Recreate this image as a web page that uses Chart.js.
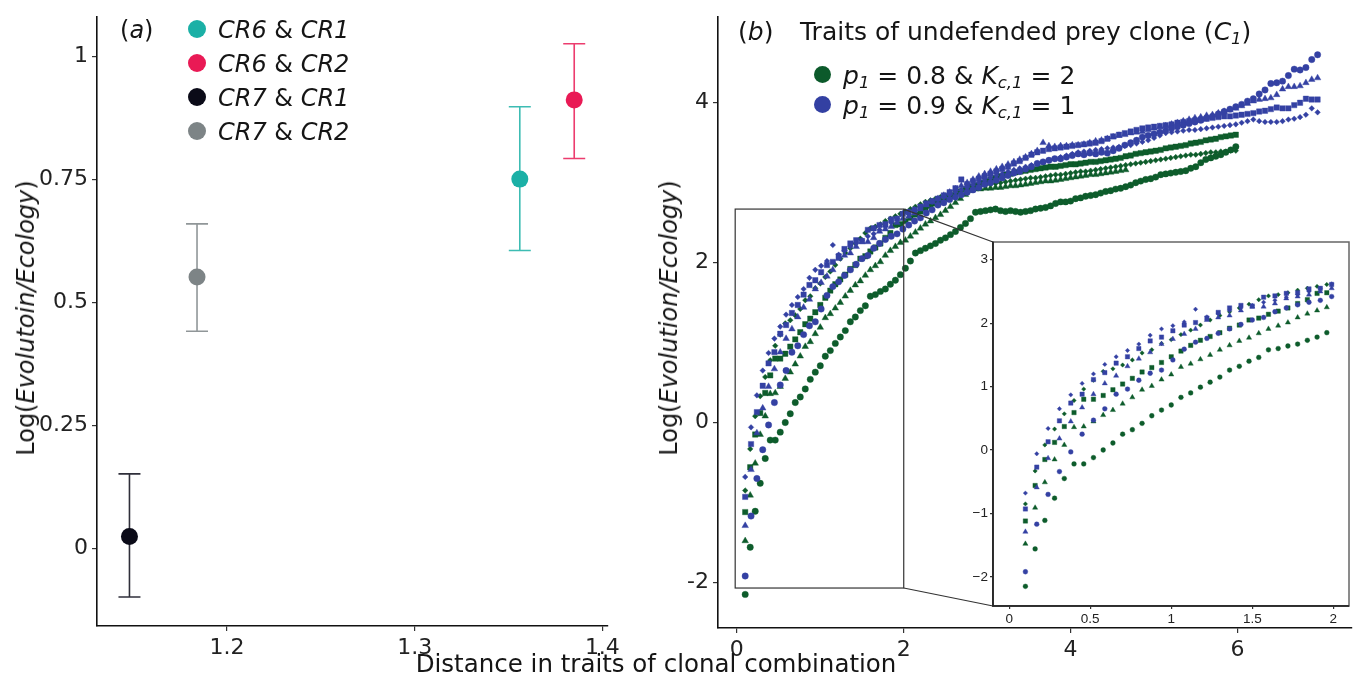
<!DOCTYPE html>
<html><head><meta charset="utf-8">
<script src="https://cdn.jsdelivr.net/npm/chart.js@4"></script>
<style>
html,body{margin:0;padding:0;background:#fff;}
body{width:1356px;height:681px;position:relative;overflow:hidden;font-family:"DejaVu Sans",Verdana,sans-serif;color:#151515;}
canvas{position:absolute;}
.t{position:absolute;white-space:nowrap;font-size:24px;line-height:1;transform:translateY(-50%);}
.b{font-size:25px;}
.rot{position:absolute;white-space:nowrap;font-size:24px;line-height:1;transform:translate(-50%,-50%) rotate(-90deg);}
.dot{position:absolute;border-radius:50%;}
i{font-style:italic;}
sub{font-size:0.66em;vertical-align:-0.28em;line-height:0;font-style:italic;}
</style></head><body>
<canvas id="ca" width="640" height="681" style="left:0;top:0"></canvas>
<canvas id="cb" width="716" height="681" style="left:640px;top:0"></canvas>
<canvas id="cc" width="406" height="410" style="left:950px;top:230px"></canvas>

<div class="t" style="left:120px;top:30px">(<i>a</i>)</div>
<div class="dot" style="left:188px;top:20px;width:18px;height:18px;background:#1bb0a6"></div>
<div class="dot" style="left:188px;top:54px;width:18px;height:18px;background:#e91a55"></div>
<div class="dot" style="left:188px;top:88px;width:18px;height:18px;background:#0b0b18"></div>
<div class="dot" style="left:188px;top:122px;width:18px;height:18px;background:#7d8486"></div>
<div class="t" style="left:218px;top:30px"><i>CR6</i> &amp; <i>CR1</i></div>
<div class="t" style="left:218px;top:64px"><i>CR6</i> &amp; <i>CR2</i></div>
<div class="t" style="left:218px;top:98px"><i>CR7</i> &amp; <i>CR1</i></div>
<div class="t" style="left:218px;top:132px"><i>CR7</i> &amp; <i>CR2</i></div>
<div class="rot" style="left:26px;top:318px">Log(<i>Evolutoin/Ecology</i>)</div>

<div class="t b" style="left:738px;top:31px">(<i>b</i>)</div>
<div class="t b" style="left:800px;top:31px">Traits of undefended prey clone (<i>C<sub>1</sub></i>)</div>
<div class="dot" style="left:814px;top:66px;width:17px;height:17px;background:#0c5a2b"></div>
<div class="dot" style="left:814px;top:96px;width:17px;height:17px;background:#3340a2"></div>
<div class="t b" style="left:843px;top:75px"><i>p<sub>1</sub></i> = 0.8 &amp; <i>K<sub>c,1</sub></i> = 2</div>
<div class="t b" style="left:843px;top:105px"><i>p<sub>1</sub></i> = 0.9 &amp; <i>K<sub>c,1</sub></i> = 1</div>
<div class="rot" style="left:669px;top:318px">Log(<i>Evolution/Ecology</i>)</div>

<div class="t" style="left:656px;top:664px;transform:translate(-50%,-50%);font-size:24.5px">Distance in traits of clonal combination</div>

<script>
// ---------- Panel (a) data ----------
const pairNames  = ["CR6 & CR1", "CR6 & CR2", "CR7 & CR1", "CR7 & CR2"];
const pairX      = [1.356, 1.385, 1.148, 1.184];
const pairY      = [0.751, 0.912, 0.025, 0.552];
const pairLo     = [0.606, 0.793, -0.098, 0.442];
const pairHi     = [0.898, 1.026, 0.152, 0.660];
const pairColors = ["#1bb0a6", "#e91a55", "#0b0b18", "#7d8486"];
const xTicksA = [1.2, 1.3, 1.4];
const xTickLabelsA = ["1.2", "1.3", "1.4"];
const yTicksA = [0, 0.25, 0.5, 0.75, 1];
const yTickLabelsA = ["0", "0.25", "0.5", "0.75", "1"];

// ---------- Panel (b) data ----------
const xGreen = [0.10,0.16,0.22,0.28,0.34,0.40,0.46,0.52,0.58,0.64,
0.70,0.76,0.82,0.88,0.94,1.00,1.06,1.12,1.18,1.24,
1.30,1.36,1.42,1.48,1.54,1.60,1.66,1.72,1.78,1.84,
1.90,1.96,2.02,2.08,2.14,2.20,2.26,2.32,2.38,2.44,
2.50,2.56,2.62,2.68,2.74,2.80,2.86,2.92,2.98,3.04,
3.10,3.16,3.22,3.28,3.34,3.40,3.46,3.52,3.58,3.64,
3.70,3.76,3.82,3.88,3.94,4.00,4.06,4.12,4.18,4.24,
4.30,4.36,4.42,4.48,4.54,4.60,4.66,4.72,4.78,4.84,
4.90,4.96,5.02,5.08,5.14,5.20,5.26,5.32,5.38,5.44,
5.50,5.56,5.62,5.68,5.74,5.80,5.86,5.92,5.98];
const xBlue = [0.10,0.17,0.24,0.31,0.38,0.45,0.52,0.59,0.66,0.73,
0.80,0.87,0.94,1.01,1.08,1.15,1.22,1.29,1.36,1.43,
1.50,1.57,1.64,1.71,1.78,1.85,1.92,1.99,2.06,2.13,
2.20,2.27,2.34,2.41,2.48,2.55,2.62,2.69,2.76,2.83,
2.90,2.97,3.04,3.11,3.18,3.25,3.32,3.39,3.46,3.53,
3.60,3.67,3.74,3.81,3.88,3.95,4.02,4.09,4.16,4.23,
4.30,4.37,4.44,4.51,4.58,4.65,4.72,4.79,4.86,4.93,
5.00,5.07,5.14,5.21,5.28,5.35,5.42,5.49,5.56,5.63,
5.70,5.77,5.84,5.91,5.98,6.05,6.12,6.19,6.26,6.33,
6.40,6.47,6.54,6.61,6.68,6.75,6.82,6.89,6.96];

const greenCircle = [-2.15,-1.56,-1.11,-0.76,-0.45,-0.22,-0.22,-0.12,0.00,0.11,
0.25,0.32,0.42,0.54,0.63,0.71,0.83,0.90,0.99,1.07,
1.15,1.26,1.32,1.40,1.46,1.58,1.60,1.64,1.67,1.73,
1.78,1.85,1.93,2.02,2.12,2.15,2.18,2.21,2.24,2.28,
2.31,2.35,2.39,2.44,2.49,2.55,2.63,2.64,2.65,2.66,
2.67,2.65,2.64,2.65,2.64,2.63,2.64,2.65,2.67,2.68,
2.69,2.71,2.74,2.76,2.76,2.77,2.80,2.81,2.83,2.84,
2.85,2.87,2.89,2.90,2.92,2.93,2.95,2.97,3.00,3.02,
3.04,3.05,3.07,3.10,3.11,3.12,3.13,3.14,3.15,3.18,
3.20,3.25,3.29,3.31,3.33,3.35,3.38,3.41,3.45];
const greenTriangle = [-1.48,-0.91,-0.51,-0.15,0.08,0.36,0.37,0.45,0.55,0.63,
0.73,0.83,0.95,1.01,1.11,1.19,1.31,1.36,1.43,1.50,
1.58,1.65,1.72,1.77,1.84,1.91,1.96,2.01,2.09,2.15,
2.20,2.25,2.28,2.33,2.38,2.43,2.48,2.52,2.56,2.60,
2.65,2.70,2.75,2.80,2.85,2.90,2.92,2.92,2.93,2.93,
2.94,2.94,2.95,2.96,2.96,2.97,2.98,2.99,3.00,3.01,
3.02,3.02,3.03,3.04,3.05,3.06,3.07,3.08,3.09,3.10,
3.10,3.11,3.12,3.13,3.14,3.15,3.16];
const greenSquare = [-1.12,-0.56,-0.15,0.12,0.37,0.59,0.80,0.80,0.86,0.95,
1.04,1.13,1.23,1.30,1.38,1.47,1.56,1.65,1.73,1.79,
1.85,1.92,1.97,2.05,2.08,2.14,2.19,2.24,2.31,2.37,
2.47,2.48,2.52,2.56,2.60,2.64,2.68,2.71,2.74,2.77,
2.80,2.83,2.86,2.89,2.92,2.95,2.97,3.00,3.02,3.04,
3.06,3.08,3.10,3.11,3.13,3.14,3.15,3.16,3.17,3.18,
3.19,3.20,3.20,3.21,3.22,3.23,3.23,3.24,3.25,3.26,
3.26,3.27,3.28,3.29,3.30,3.31,3.33,3.34,3.36,3.37,
3.38,3.39,3.40,3.41,3.43,3.44,3.45,3.46,3.47,3.49,
3.50,3.51,3.53,3.54,3.55,3.57,3.58,3.59,3.60];
const greenDiamond = [-0.85,-0.33,0.08,0.33,0.57,0.78,0.96,1.10,1.24,1.28,
1.34,1.42,1.53,1.58,1.68,1.74,1.82,1.89,1.97,2.05,
2.12,2.18,2.24,2.30,2.37,2.43,2.45,2.48,2.52,2.55,
2.58,2.61,2.64,2.67,2.70,2.73,2.76,2.78,2.80,2.82,
2.84,2.86,2.88,2.90,2.92,2.93,2.95,2.96,2.97,2.98,
2.99,3.00,3.01,3.02,3.03,3.04,3.05,3.06,3.06,3.07,
3.08,3.09,3.10,3.10,3.11,3.12,3.13,3.14,3.14,3.15,
3.16,3.17,3.18,3.19,3.20,3.21,3.22,3.23,3.24,3.25,
3.26,3.27,3.28,3.29,3.30,3.31,3.32,3.33,3.34,3.35,
3.35,3.36,3.37,3.38,3.38,3.39,3.39,3.40,3.40];

const blueCircle = [-1.92,-1.17,-0.70,-0.34,-0.03,0.25,0.47,0.65,0.88,0.96,
1.10,1.21,1.26,1.42,1.59,1.70,1.76,1.84,1.91,1.98,
2.05,2.09,2.18,2.24,2.29,2.33,2.36,2.42,
2.47,2.52,2.56,2.62,2.66,2.72,2.75,2.79,2.82,2.85,
2.88,2.91,2.94,2.98,3.00,3.03,3.06,3.09,3.12,3.14,
3.17,3.20,3.24,3.26,3.28,3.30,3.30,3.32,3.34,3.36,
3.35,3.37,3.36,3.38,3.37,3.40,3.43,3.47,3.50,3.53,
3.57,3.59,3.61,3.63,3.65,3.68,3.70,3.72,3.74,3.76,
3.78,3.81,3.83,3.86,3.89,3.92,3.95,3.98,4.02,4.05,
4.11,4.16,4.24,4.25,4.27,4.34,4.42,4.41,4.44,4.54,4.60];
const blueTriangle = [-1.29,-0.59,-0.13,0.18,0.45,0.67,0.88,1.05,1.17,1.32,
1.44,1.54,1.67,1.75,1.83,1.91,2.05,2.09,2.12,2.20,
2.26,2.26,2.31,2.39,2.42,2.45,2.50,2.55,
2.58,2.62,2.67,2.72,2.76,2.80,2.84,2.88,2.92,2.96,
3.00,3.04,3.08,3.11,3.14,3.17,3.20,3.23,3.26,3.29,
3.32,3.36,3.40,3.50,3.46,3.45,3.46,3.46,3.47,3.47,
3.48,3.50,3.52,3.53,3.55,3.57,3.59,3.60,3.62,3.63,
3.64,3.66,3.68,3.70,3.71,3.73,3.75,3.77,3.79,3.81,
3.82,3.84,3.85,3.87,3.89,3.91,3.93,3.96,3.99,4.02,
4.04,4.05,4.06,4.10,4.17,4.20,4.20,4.21,4.25,4.29,4.31];
const blueSquare = [-0.93,-0.27,0.13,0.46,0.74,0.88,1.11,1.22,1.37,1.47,
1.60,1.72,1.78,1.88,1.97,2.01,2.08,2.17,2.24,2.28,
2.27,2.41,2.43,2.47,2.48,2.54,2.55,2.61,
2.63,2.66,2.70,2.74,2.77,2.80,2.84,2.88,2.93,3.04,
2.98,3.02,3.05,3.08,3.11,3.14,3.17,3.20,3.24,3.27,
3.31,3.35,3.38,3.40,3.42,3.43,3.44,3.45,3.46,3.47,
3.48,3.49,3.50,3.52,3.55,3.58,3.60,3.62,3.64,3.66,
3.68,3.69,3.70,3.71,3.72,3.73,3.75,3.76,3.77,3.78,
3.79,3.80,3.81,3.82,3.83,3.83,3.84,3.85,3.86,3.87,
3.89,3.90,3.92,3.94,3.93,3.93,3.97,4.00,4.05,4.04,4.04];
const blueDiamond = [-0.68,-0.06,0.34,0.65,0.87,1.05,1.20,1.35,1.47,1.57,
1.67,1.81,1.91,1.96,2.02,2.22,2.10,2.15,2.20,2.24,
2.28,2.33,2.36,2.41,2.45,2.50,2.55,2.62,
2.64,2.67,2.70,2.73,2.76,2.79,2.82,2.85,2.88,2.91,
2.94,2.97,3.00,3.03,3.06,3.09,3.11,3.14,3.16,3.18,
3.20,3.22,3.24,3.26,3.28,3.30,3.32,3.34,3.36,3.38,
3.39,3.40,3.41,3.42,3.43,3.44,3.45,3.46,3.47,3.49,
3.51,3.53,3.56,3.59,3.62,3.63,3.64,3.65,3.66,3.66,
3.67,3.68,3.69,3.70,3.71,3.72,3.73,3.75,3.77,3.79,
3.77,3.76,3.76,3.76,3.77,3.79,3.80,3.82,3.85,3.93,3.88];

const xTicksB = [0, 2, 4, 6];
const xTickLabelsB = ["0", "2", "4", "6"];
const yTicksB = [-2, 0, 2, 4];
const yTickLabelsB = ["-2", "0", "2", "4"];
const xTicksC = [0, 0.5, 1, 1.5, 2];
const xTickLabelsC = ["0", "0.5", "1", "1.5", "2"];
const yTicksC = [-2, -1, 0, 1, 2, 3];
const yTickLabelsC = ["\u22122", "\u22121", "0", "1", "2", "3"];
const zoomBoxX = [-0.02, 2.0];
const zoomBoxY = [-2.07, 2.67];

// ---------- styling ----------
const GREEN = "#0d5c2b", BLUE = "#3441a3";
const FONT = '"DejaVu Sans", Verdana, sans-serif';
Chart.defaults.font.family = FONT;

function tickAxis(min, max, ticks, labels, size, fitKey, fitVal, opts) {
  opts = opts || {};
  return {
    type: 'linear', min: min, max: max,
    afterBuildTicks: s => { s.ticks = ticks.map(v => ({ value: v })); },
    afterFit: s => { s[fitKey] = fitVal; },
    ticks: { callback: (v, i) => labels[i], font: { size: size, family: opts.family || FONT },
             color: '#222', padding: opts.pad == null ? 4 : opts.pad, maxRotation: 0, autoSkip: false },
    grid: { display: true, drawOnChartArea: false, drawTicks: true, tickLength: opts.tl || 5,
            color: '#333', lineWidth: 1.2 },
    border: { display: true, color: '#111', width: 1.6 }
  };
}

// ---------- Panel (a) ----------
const errorBars = {
  id: 'errorBars',
  beforeDatasetsDraw(chart) {
    const { ctx, scales: { x, y } } = chart;
    ctx.save();
    ctx.lineWidth = 1.6;
    ctx.globalAlpha = 0.85;
    pairX.forEach((v, k) => {
      const px = x.getPixelForValue(v);
      const p1 = y.getPixelForValue(pairLo[k]);
      const p2 = y.getPixelForValue(pairHi[k]);
      const cap = 11;
      ctx.strokeStyle = pairColors[k];
      ctx.beginPath();
      ctx.moveTo(px, p1); ctx.lineTo(px, p2);
      ctx.moveTo(px - cap, p1); ctx.lineTo(px + cap, p1);
      ctx.moveTo(px - cap, p2); ctx.lineTo(px + cap, p2);
      ctx.stroke();
    });
    ctx.restore();
  }
};

new Chart(document.getElementById('ca'), {
  type: 'scatter',
  data: { datasets: pairNames.map((n, k) => ({
    label: n, data: [{ x: pairX[k], y: pairY[k] }],
    pointRadius: 8.5, pointHoverRadius: 8.5, backgroundColor: pairColors[k], borderWidth: 0
  })) },
  options: {
    responsive: false, animation: false, events: [],
    layout: { padding: { top: 10, right: 32, left: 0, bottom: 0 } },
    plugins: { legend: { display: false }, tooltip: { enabled: false } },
    scales: {
      x: tickAxis(1.1307, 1.403, xTicksA, xTickLabelsA, 22, 'height', 55),
      y: tickAxis(-0.157, 1.08, yTicksA, yTickLabelsA, 22, 'width', 97)
    }
  },
  plugins: [errorBars]
});

// ---------- Panel (b) series ----------
const seriesDefs = [
  { ys: blueCircle,    xs: xBlue,  color: BLUE,  style: 'circle',   r: 3.2, ri: 2.4, order: 0 },
  { ys: blueTriangle,  xs: xBlue,  color: BLUE,  style: 'triangle', r: 3.8, ri: 3.0, order: 0 },
  { ys: blueSquare,    xs: xBlue,  color: BLUE,  style: 'rect',     r: 3.8, ri: 3.1, order: 0 },
  { ys: blueDiamond,   xs: xBlue,  color: BLUE,  style: 'rectRot',  r: 2.8, ri: 2.2, order: 0 },
  { ys: greenCircle,   xs: xGreen, color: GREEN, style: 'circle',   r: 3.2, ri: 2.4, order: 1 },
  { ys: greenTriangle, xs: xGreen, color: GREEN, style: 'triangle', r: 3.8, ri: 3.0, order: 1 },
  { ys: greenSquare,   xs: xGreen, color: GREEN, style: 'rect',     r: 3.8, ri: 3.1, order: 1 },
  { ys: greenDiamond,  xs: xGreen, color: GREEN, style: 'rectRot',  r: 2.8, ri: 2.2, order: 1 }
];
function pts(xs, ys, maxX) {
  const out = [];
  for (let i = 0; i < ys.length && i < xs.length; i++) {
    if (maxX == null || xs[i] <= maxX) out.push({ x: xs[i], y: ys[i] });
  }
  return out;
}
function makeSets(inset) {
  return seriesDefs.map(d => ({
    data: pts(d.xs, d.ys, inset ? 2.0 : null),
    pointStyle: d.style, pointRadius: inset ? d.ri : d.r, pointHoverRadius: inset ? d.ri : d.r,
    backgroundColor: d.color, borderColor: d.color, borderWidth: 0.4, order: d.order
  }));
}

// ---------- Inset ----------
const insetCanvasLeft = 950, insetCanvasTop = 230;
const insetFrame = {
  id: 'insetFrame',
  beforeDraw(chart) {
    const a = chart.chartArea, ctx = chart.ctx;
    ctx.save(); ctx.fillStyle = '#fff';
    ctx.fillRect(a.left, a.top, a.right - a.left, a.bottom - a.top);
    ctx.restore();
  },
  afterDraw(chart) {
    const a = chart.chartArea, ctx = chart.ctx;
    ctx.save(); ctx.strokeStyle = '#666'; ctx.lineWidth = 1.5;
    ctx.strokeRect(a.left, a.top, a.right - a.left, a.bottom - a.top);
    ctx.strokeStyle = '#222'; ctx.lineWidth = 1.6;
    ctx.beginPath(); ctx.moveTo(a.left, a.top); ctx.lineTo(a.left, a.bottom); ctx.lineTo(a.right, a.bottom); ctx.stroke();
    ctx.restore();
  }
};
const insetChart = new Chart(document.getElementById('cc'), {
  type: 'scatter',
  data: { datasets: makeSets(true) },
  options: {
    responsive: false, animation: false, events: [],
    layout: { padding: { top: 12, right: 7, left: 0, bottom: 0 } },
    plugins: { legend: { display: false }, tooltip: { enabled: false } },
    scales: {
      x: tickAxis(-0.1, 2.097, xTicksC, xTickLabelsC, 13.5, 'height', 34, { family: '"Liberation Sans", Arial, sans-serif', tl: 3, pad: 2 }),
      y: tickAxis(-2.46, 3.28, yTicksC, yTickLabelsC, 13.5, 'width', 43, { family: '"Liberation Sans", Arial, sans-serif', tl: 3, pad: 2 })
    }
  },
  plugins: [insetFrame]
});

// ---------- Main panel (b) ----------
const zoomGuide = {
  id: 'zoomGuide',
  afterDatasetsDraw(chart) {
    const { ctx, scales: { x, y } } = chart;
    const L = x.getPixelForValue(zoomBoxX[0]), R = x.getPixelForValue(zoomBoxX[1]);
    const T = y.getPixelForValue(zoomBoxY[1]), B = y.getPixelForValue(zoomBoxY[0]);
    const ia = insetChart.chartArea;
    const offX = insetCanvasLeft - 640, offY = insetCanvasTop - 0;
    ctx.save();
    ctx.strokeStyle = '#333'; ctx.lineWidth = 1.2;
    ctx.strokeRect(L, T, R - L, B - T);
    ctx.beginPath();
    ctx.moveTo(R, T); ctx.lineTo(ia.left + offX, ia.top + offY);
    ctx.moveTo(R, B); ctx.lineTo(ia.left + offX, ia.bottom + offY);
    ctx.stroke();
    ctx.restore();
  }
};
new Chart(document.getElementById('cb'), {
  type: 'scatter',
  data: { datasets: makeSets(false) },
  options: {
    responsive: false, animation: false, events: [],
    layout: { padding: { top: 10, right: 0, left: 0, bottom: 0 } },
    plugins: { legend: { display: false }, tooltip: { enabled: false } },
    scales: {
      x: tickAxis(-0.226, 7.37, xTicksB, xTickLabelsB, 22, 'height', 53),
      y: tickAxis(-2.57, 5.07, yTicksB, yTickLabelsB, 22, 'width', 78)
    }
  },
  plugins: [zoomGuide]
});
</script>
</body></html>
